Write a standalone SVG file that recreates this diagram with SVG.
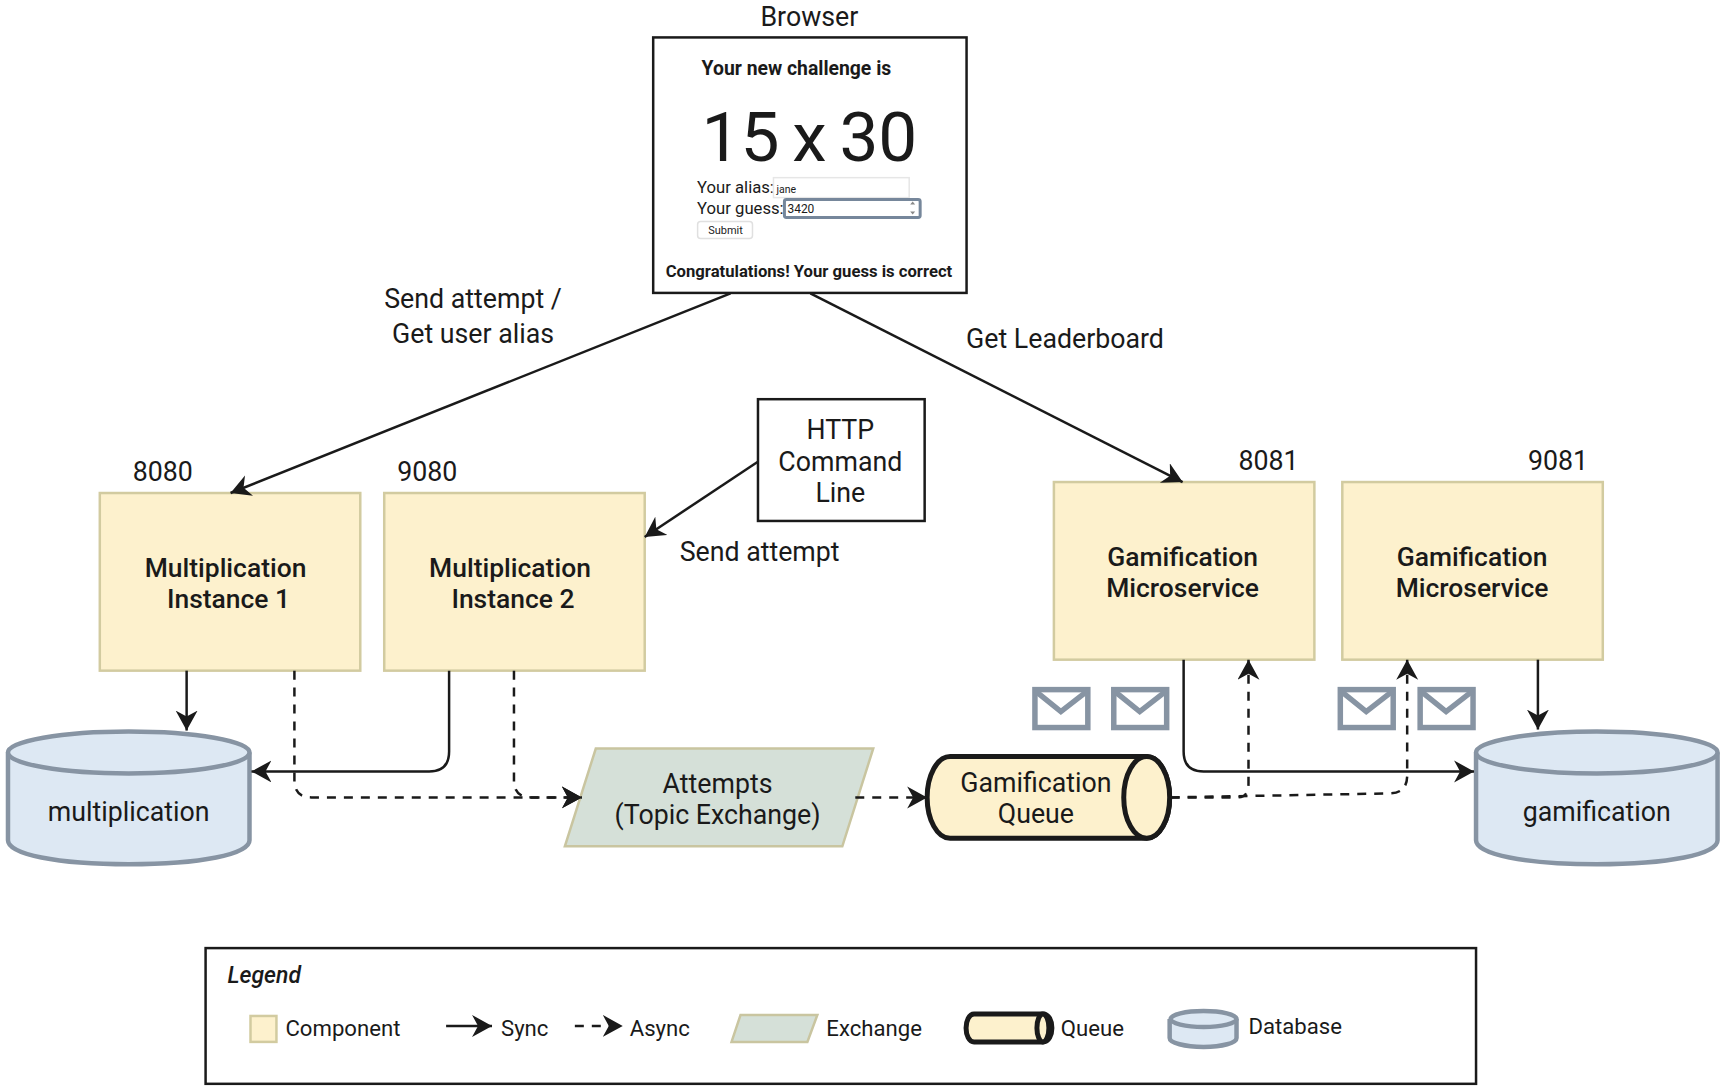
<svg xmlns="http://www.w3.org/2000/svg" width="1725" height="1090" viewBox="0 0 1725 1090">
<style>
text{font-family:Roboto,"Liberation Sans",sans-serif;fill:#1a1a1a}
.l{font-size:26.800px}
.c{text-anchor:middle}
.m{font-size:26.500px;font-weight:500;text-anchor:middle}
.s{font-size:22.200px}
.comp{fill:#fdf1cd;stroke:#d2cba0;stroke-width:2.500}
.db{fill:#dde8f3;stroke:#8794a3;stroke-width:4.500}
.ex{fill:#d5e0d8;stroke:#c9c5a0;stroke-width:2.500}
.q{fill:#fdf1cd;stroke:#1a1a1a;stroke-width:5}
.env{fill:#fff;stroke:#8794a3;stroke-width:5.500}
.box{fill:#fff;stroke:#1a1a1a;stroke-width:2.500}
.sync{fill:none;stroke:#1a1a1a;stroke-width:2.500;marker-end:url(#a)}
.async{fill:none;stroke:#1a1a1a;stroke-width:2.500;stroke-dasharray:9 8;marker-end:url(#a)}
</style>
<defs>
<marker id="a" markerUnits="userSpaceOnUse" markerWidth="24" markerHeight="24" refX="20" refY="11" orient="auto"><path d="M0 0L20 11L0 22L6 11Z" fill="#1a1a1a"/></marker>
</defs>
<g transform="scale(.998)">
<g id="browser">
<text class="l c" x="811" y="26">Browser</text>
<rect class="box" x="654.500" y="37.500" width="314" height="256"/>
<text x="703" y="75" font-size="19.400" font-weight="700">Your new challenge is</text>
<text x="703" y="161" font-size="69.500" word-spacing="-4.500">15 x 30</text>
<text x="698.500" y="193" font-size="16.700" fill="#444">Your alias:</text>
<rect x="775" y="178" width="136" height="20" fill="#fff" stroke="#e6e6e6" stroke-width="1.500"/>
<text x="778" y="193" font-size="10.500">jane</text>
<text x="698.500" y="214" font-size="16.700" fill="#444">Your guess:</text>
<rect x="786" y="200" width="136" height="18" rx="2" fill="#fff" stroke="#76879b" stroke-width="3"/>
<text x="789" y="213" font-size="12">3420</text>
<path d="M912 205L914.500 202L917 205ZM912 212L914.500 215L917 212Z" fill="#888"/>
<rect x="699" y="222" width="55" height="17" rx="3" fill="#fff" stroke="#e0e0e0" stroke-width="1.500"/>
<text class="c" x="727" y="234" font-size="11" fill="#666">Submit</text>
<text x="667" y="278" font-size="16.700" font-weight="700">Congratulations! Your guess is correct</text>
</g>
<g id="http">
<rect class="box" x="759.500" y="400" width="167" height="122"/>
<text class="l c" x="842" y="440">HTTP</text>
<text class="l c" x="842" y="472">Command</text>
<text class="l c" x="842" y="503">Line</text>
</g>
<g id="m1">
<rect class="comp" x="100" y="494" width="261" height="178"/>
<text class="m" x="226" y="578">Multiplication</text>
<text class="m" x="229" y="609">Instance 1</text>
</g>
<g id="m2">
<rect class="comp" x="385" y="494" width="261" height="178"/>
<text class="m" x="511" y="578">Multiplication</text>
<text class="m" x="514" y="609">Instance 2</text>
</g>
<g id="g1">
<rect class="comp" x="1056" y="483" width="261" height="178"/>
<text class="m" x="1185" y="567">Gamification</text>
<text class="m" x="1185" y="598">Microservice</text>
</g>
<g id="g2">
<rect class="comp" x="1345" y="483" width="261" height="178"/>
<text class="m" x="1475" y="567">Gamification</text>
<text class="m" x="1475" y="598">Microservice</text>
</g>
<g id="db1">
<path class="db" d="M8 754V842C8 856 57 866 129 866S250 856 250 842V754"/>
<ellipse class="db" cx="129" cy="754" rx="121" ry="21"/>
<text class="l c" x="129" y="823">multiplication</text>
</g>
<g id="db2">
<path class="db" d="M1479 754V842C1479 856 1528 866 1600 866S1721 856 1721 842V754"/>
<ellipse class="db" cx="1600" cy="754" rx="121" ry="21"/>
<text class="l c" x="1600" y="823">gamification</text>
</g>
<g id="exchange">
<polygon class="ex" points="597,750 875,750 844,848 566,848"/>
<text class="l c" x="719" y="795">Attempts</text>
<text class="l c" x="719" y="826">(Topic Exchange)</text>
</g>
<g id="queue">
<path class="q" d="M952 758H1149C1162 758 1172 777 1172 799S1162 840 1149 840H952C939 840 929 821 929 799S939 758 952 758Z"/>
<ellipse class="q" cx="1149" cy="799" rx="23" ry="41"/>
<text class="l c" x="1038" y="794">Gamification</text>
<text class="l c" x="1038" y="825">Queue</text>
</g>
<g id="envelopes">
<g id="env1"><rect class="env" x="1037" y="691" width="53" height="38"/><path class="env" style="fill:none" d="M1037 692L1063 713L1090 692"/></g>
<g id="env2"><rect class="env" x="1116" y="691" width="53" height="38"/><path class="env" style="fill:none" d="M1116 692L1142 713L1169 692"/></g>
<g id="env3"><rect class="env" x="1343" y="691" width="53" height="38"/><path class="env" style="fill:none" d="M1343 692L1369 713L1396 692"/></g>
<g id="env4"><rect class="env" x="1423" y="691" width="53" height="38"/><path class="env" style="fill:none" d="M1423 692L1449 713L1476 692"/></g>
</g>
<g id="connectors">
<path class="sync" d="M732 294L231 494"/>
<path class="sync" d="M812 294L1185 483"/>
<path class="sync" d="M759 463L646 538"/>
<path class="sync" d="M187 672V732"/>
<path class="sync" d="M450 672V753Q450 773 430 773H252"/>
<path class="async" d="M295 672V782Q295 799 312 799H583"/>
<path class="async" d="M515 672V782Q515 799 532 799H583"/>
<path class="async" d="M857 799H929"/>
<path class="sync" d="M1186 661V753Q1186 773 1206 773H1477"/>
<path class="async" d="M1173 799H1240Q1251 799 1251 785V661"/>
<path class="async" d="M1173 799L1392 795Q1410 795 1410 777V661"/>
<path class="sync" d="M1541 661V731"/>
</g>
<g id="labels">
<text class="l c" x="474" y="309">Send attempt /</text>
<text class="l c" x="474" y="344">Get user alias</text>
<text class="l" x="968" y="349">Get Leaderboard</text>
<text class="l" x="681" y="562">Send attempt</text>
<text class="l" x="133" y="482">8080</text>
<text class="l" x="398" y="482">9080</text>
<text class="l" x="1241" y="471">8081</text>
<text class="l" x="1531" y="471">9081</text>
</g>
<g id="legend">
<rect class="box" x="206" y="950" width="1273" height="136"/>
<text x="228" y="985" font-size="23" font-style="italic" font-weight="500">Legend</text>
<rect class="comp" x="251" y="1018" width="26" height="26"/>
<text class="s" x="286" y="1038">Component</text>
<path class="sync" d="M447 1028H493"/>
<text class="s" x="502" y="1038">Sync</text>
<path class="async" d="M576 1028H624"/>
<text class="s" x="631" y="1038">Async</text>
<polygon class="ex" points="742,1017 819,1017 809,1044 733,1044"/>
<text class="s" x="828" y="1038">Exchange</text>
<path class="q" d="M976 1016H1045C1051 1016 1054 1023 1054 1030S1051 1044 1045 1044H976C971 1044 968 1037 968 1030S971 1016 976 1016Z"/>
<ellipse class="q" cx="1045" cy="1030" rx="6" ry="14"/>
<text class="s" x="1063" y="1038">Queue</text>
<path class="db" d="M1172 1021V1040C1172 1045 1187 1049 1206 1049S1239 1045 1239 1040V1021"/>
<ellipse class="db" cx="1206" cy="1021" rx="33" ry="8"/>
<text class="s" x="1251" y="1036">Database</text>
</g>
</g>
</svg>
